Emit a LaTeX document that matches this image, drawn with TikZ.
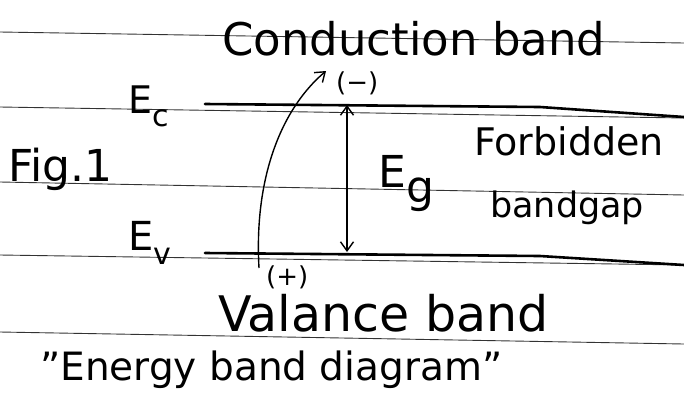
\documentclass[tikz,border=0pt]{standalone}
\usepackage{fontspec}
\setmainfont{DejaVu Sans}
\usetikzlibrary{arrows.meta}
\newcommand{\fs}[1]{\fontsize{#1}{#1}\selectfont}
\newcommand{\lvl}[2]{E\raisebox{-0.35em}{\fs{#2}#1}}
\begin{document}
\begin{tikzpicture}[x=1pt, y=-1pt, >={Straight Barb[length=9pt,width=13pt]},
  rule/.style={draw=black!80, line width=0.9pt},
  level/.style={line width=2.6pt, line cap=round, line join=round},
  hand/.style={anchor=base west, inner sep=0pt}]
\useasboundingbox[fill=white] (0,0) rectangle (684,394);
\coordinate (r1a) at (0,32);   \coordinate (r1b) at (684,43);
\coordinate (r2a) at (0,107);  \coordinate (r2b) at (684,118);
\coordinate (r3a) at (0,182);  \coordinate (r3b) at (684,195);
\coordinate (r4a) at (0,255);  \coordinate (r4b) at (684,265);
\coordinate (r5a) at (0,332);  \coordinate (r5b) at (684,344);
\draw[rule] (r1a) -- (r1b);
\draw[rule] (r2a) -- (r2b);
\draw[rule] (r3a) -- (r3b);
\draw[rule] (r4a) -- (r4b);
\draw[rule] (r5a) -- (r5b);
\coordinate (ecstart) at (205,104);
\coordinate (ecmid) at (540,107);
\coordinate (ecend) at (684,117);
\coordinate (evstart) at (205,253);
\coordinate (evmid) at (540,256);
\coordinate (evend) at (684,265);
\draw[level] (ecstart) -- (ecmid) -- (ecend);
\draw[level] (evstart) -- (evmid) -- (evend);
\coordinate (gaptop) at (347,105);
\coordinate (gapbot) at (347,252);
\draw[<->, line width=1.4pt] (gapbot) -- (gaptop);
\coordinate (hole) at (259,268);
\coordinate (electron) at (326,71);
\draw[->, line width=1.4pt] (hole) .. controls (254,180) and (280,110) .. (electron);
\node[hand, font=\fs{45}] (conduction) at (222,55) {Conduction band};
\node[hand, font=\fs{26}] (minus) at (336,91) {(−)};
\node[hand, font=\fs{38}] (ec) at (128,113) {\lvl{c}{30}};
\node[hand, font=\fs{44}] (fig) at (8,181) {Fig.1};
\node[hand, font=\fs{44}] (eg) at (378,187) {\lvl{g}{44}};
\node[hand, font=\fs{38}] (forbidden) at (474,155) {Forbidden};
\node[hand, font=\fs{35}] (bandgap) at (490,217) {bandgap};
\node[hand, font=\fs{40}] (ev) at (128,250) {\lvl{v}{30}};
\node[hand, font=\fs{26}] (plus) at (266,285) {(+)};
\node[hand, font=\fs{49}] (valance) at (218,331) {Valance band};
\node[hand, font=\fs{39}] (caption) at (40,380) {\char"22 Energy band diagram\char"22};
\end{tikzpicture}
\end{document}
